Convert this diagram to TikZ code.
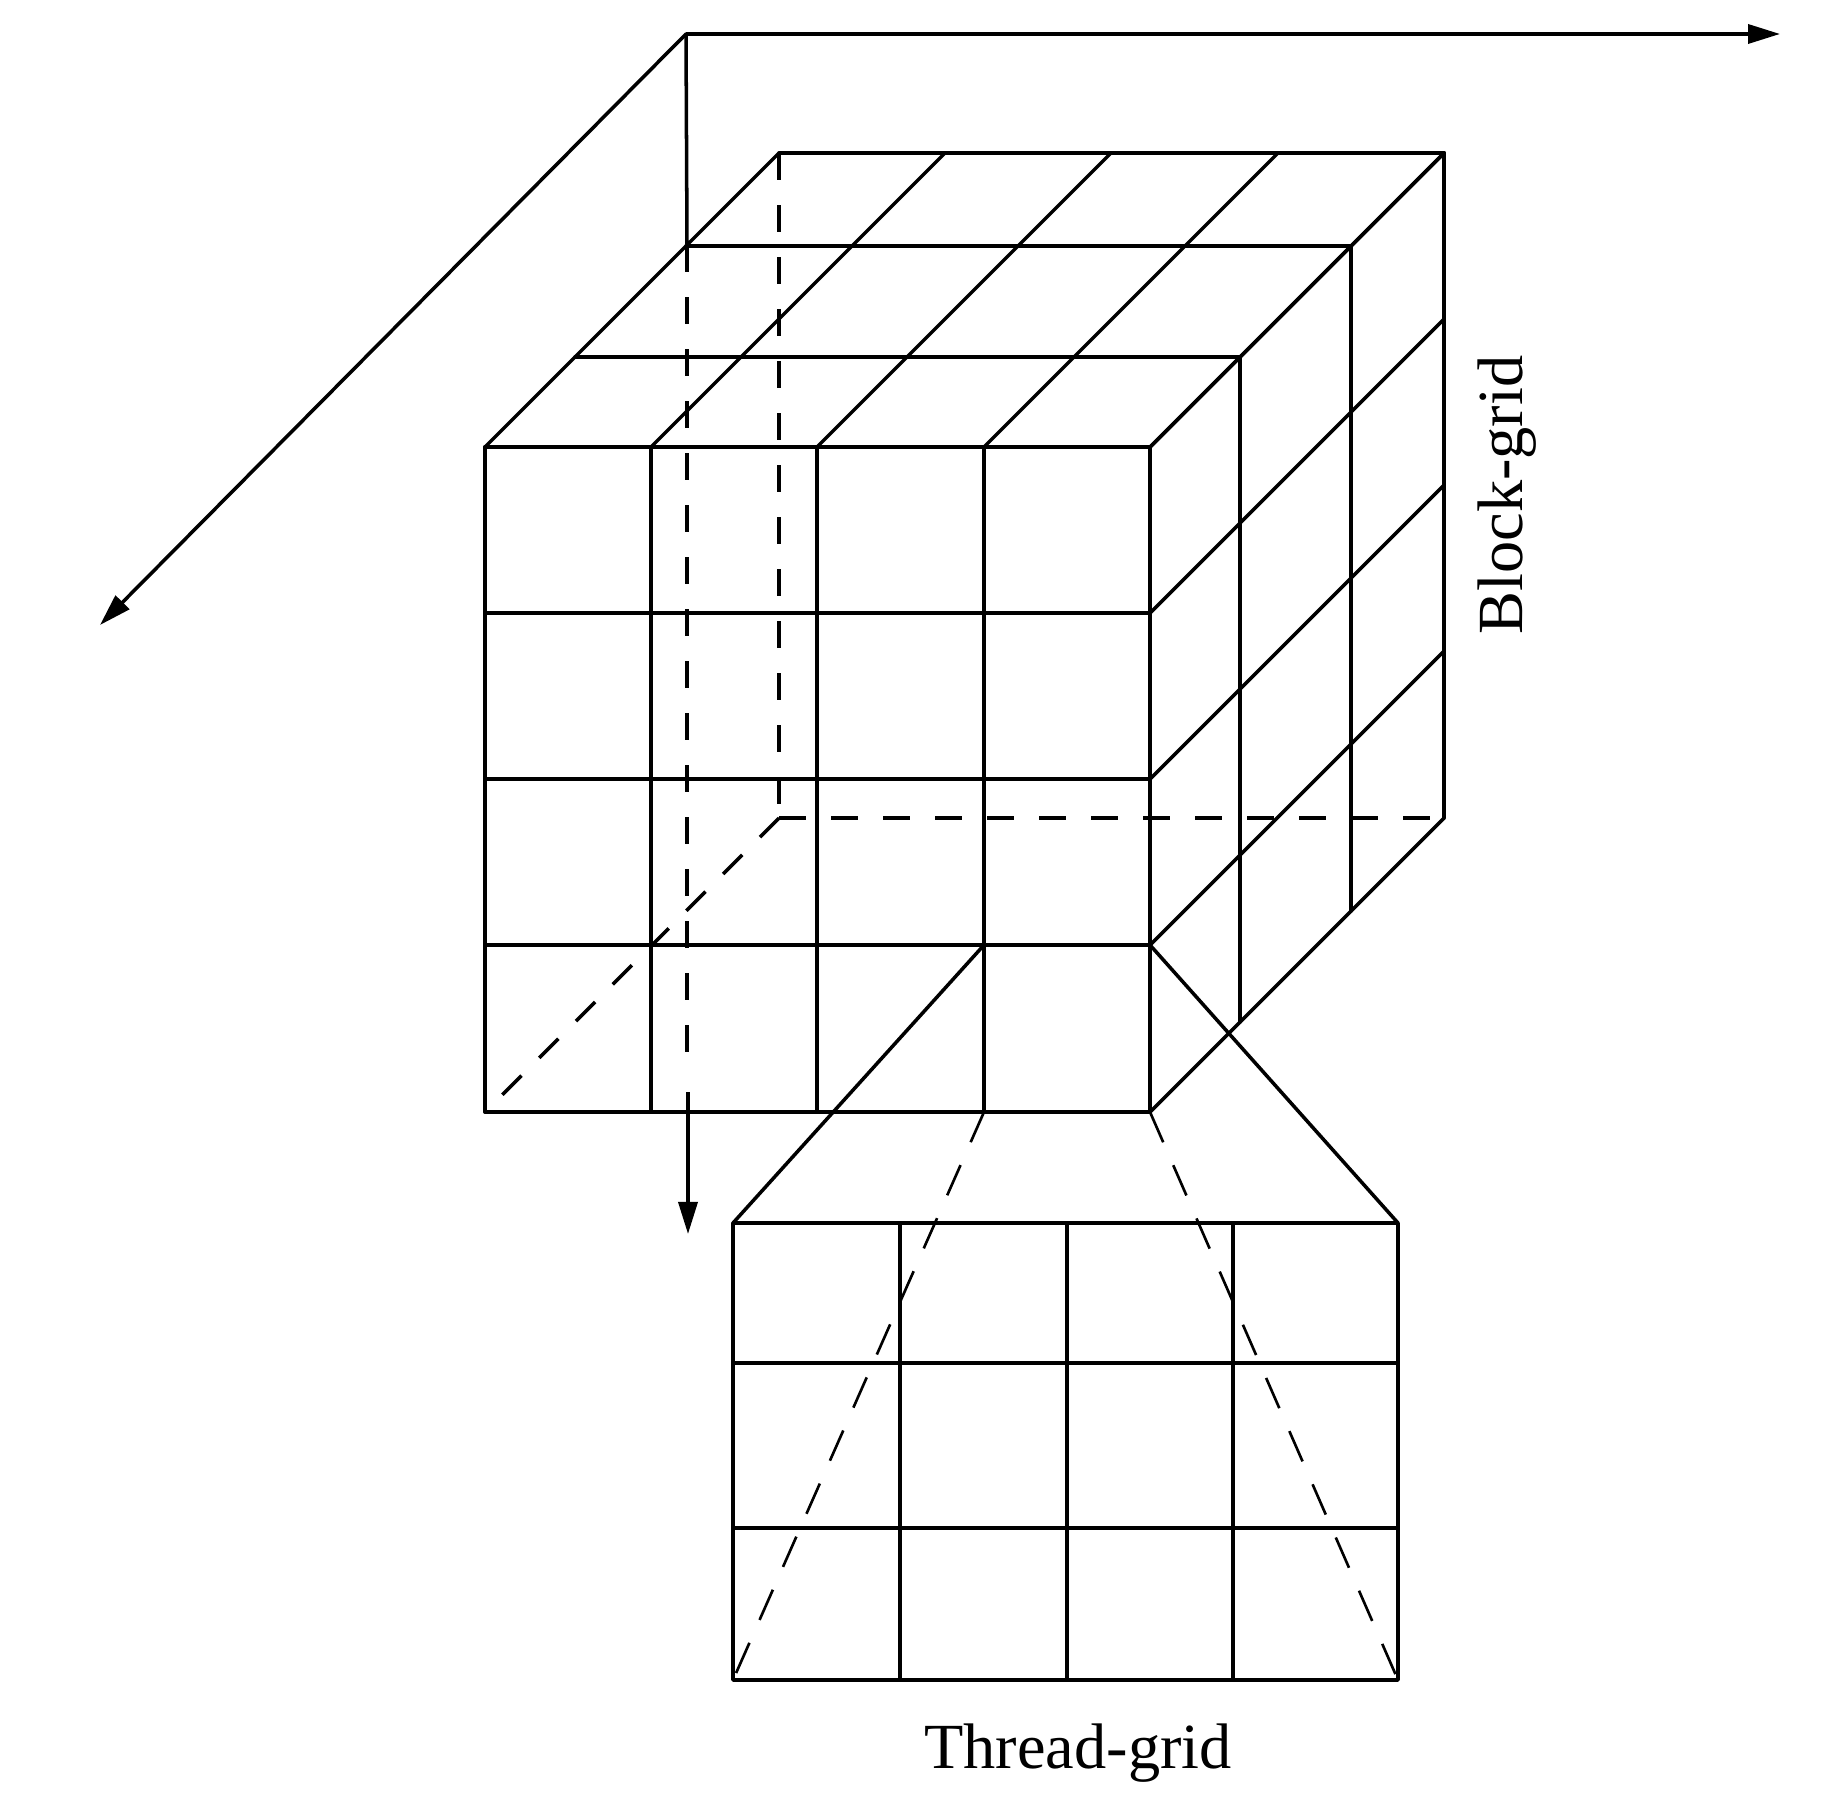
\documentclass[tikz,border=0pt]{standalone}
\usepackage{fontspec}
\setmainfont{Liberation Serif}
\usetikzlibrary{arrows.meta}
\begin{document}
\begin{tikzpicture}[x=0.01cm,y=-0.01cm,
  edge/.style={line width=1.0pt, line cap=round, line join=round},
  hidden/.style={line width=1.0pt, dash pattern=on 0.27cm off 0.25cm},
  zoomdash/.style={line width=0.75pt, dash pattern=on 0.33cm off 0.25cm},
  axis/.style={line width=1.0pt, -{Triangle[length=0.32cm,width=0.19cm]}},
  lbl/.style={font=\fontsize{18.3}{22}\selectfont, inner sep=0pt}]
\useasboundingbox (0,0) rectangle (1843,1795);

% ---------- axes ----------
\coordinate (O) at (686,34);
\coordinate (Xend) at (1780,34);
\coordinate (Zend) at (100,625);
\coordinate (Ymid) at (687,245);
\coordinate (Ydash) at (687,1070);
\coordinate (Ysolid) at (688,1092);
\coordinate (Yend) at (688,1234);
\draw[axis] (O) -- (Xend);
\draw[axis] (O) -- (Zend);
\draw[edge] (O) -- (Ymid);
\draw[hidden] (Ymid) -- (Ydash);
\draw[axis] (Ysolid) -- (Yend);

% ---------- block grid (cube) ----------
% hidden edges
\coordinate (BBL) at (779,818);
\draw[hidden] (779,153) -- (BBL);
\draw[hidden] (BBL) -- (1444,818);
\draw[hidden] (BBL) -- (485,1112);

% top face
\foreach \d in {0,90,201,294}
  \draw[edge] (485+\d,447-\d) -- (1150+\d,447-\d);
\foreach \x in {485,651,817,984,1150}
  \draw[edge] (\x,447) -- (\x+294,153);

% right face
\foreach \d in {0,90,201,294}
  \draw[edge] (1150+\d,447-\d) -- (1150+\d,1112-\d);
\foreach \y in {447,613,779,945,1112}
  \draw[edge] (1150,\y) -- (1444,\y-294);

% front face
\foreach \x in {485,651,817,984,1150}
  \draw[edge] (\x,447) -- (\x,1112);
\foreach \y in {447,613,779,945,1112}
  \draw[edge] (485,\y) -- (1150,\y);

% ---------- thread grid ----------
\coordinate (TTL) at (733,1223);
\coordinate (TTR) at (1398,1223);
\coordinate (TBL) at (733,1680);
\coordinate (TBR) at (1398,1680);
\draw[edge] (TTL) rectangle (TBR);
\foreach \x in {900,1067,1233}
  \draw[edge] (\x,1223) -- (\x,1680);
\foreach \y in {1363,1528}
  \draw[edge] (733,\y) -- (1398,\y);

% ---------- zoom connectors ----------
\coordinate (CTL) at (984,945);
\coordinate (CTR) at (1150,945);
\coordinate (CBL) at (984,1112);
\coordinate (CBR) at (1150,1112);
\draw[edge] (CTL) -- (TTL);
\draw[edge] (CTR) -- (TTR);
\draw[zoomdash] (CBL) -- (TBL);
\draw[zoomdash] (CBR) -- (TBR);

% ---------- labels ----------
\node[lbl, anchor=base] (tg) at (1078,1768) {Thread-grid};
\node[lbl, rotate=90, anchor=base] (bg) at (1522,495) {Block-grid};
\end{tikzpicture}
\end{document}
